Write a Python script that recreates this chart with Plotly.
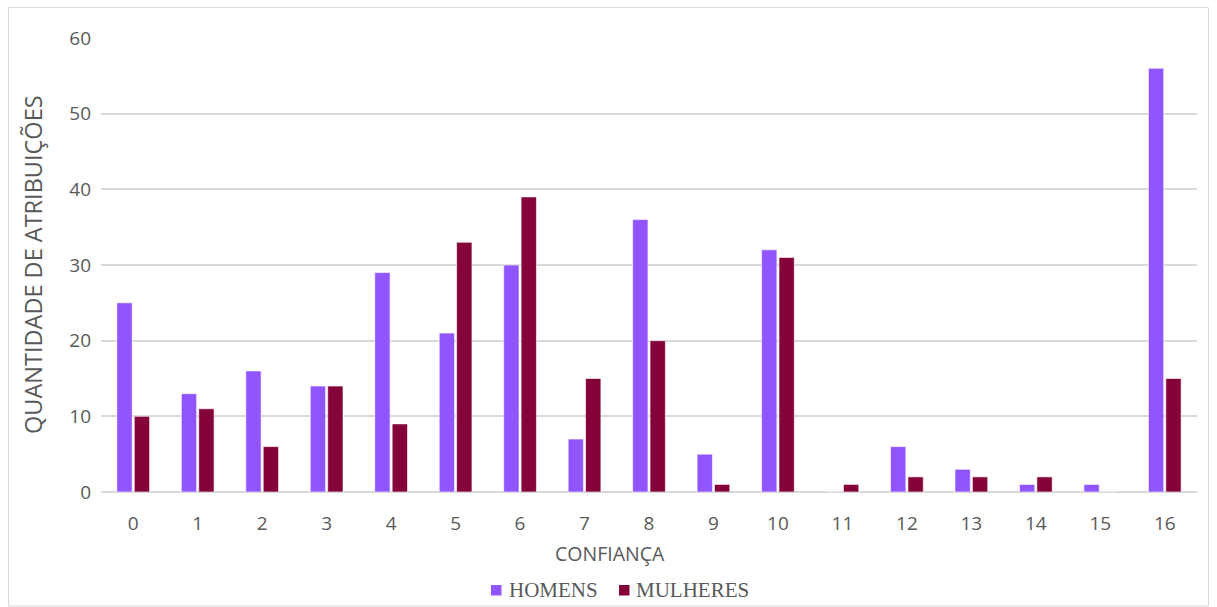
import plotly.graph_objects as go

# Confiança levels and counts per group
categorias = [str(i) for i in range(17)]
homens = [25, 13, 16, 14, 29, 21, 30, 7, 36, 5, 32, 0, 6, 3, 1, 1, 56]
mulheres = [10, 11, 6, 14, 9, 33, 39, 15, 20, 1, 31, 1, 2, 2, 2, 0, 15]
y_ticks = [0, 10, 20, 30, 40, 50, 60]

series = [
    ("HOMENS", homens, "#9155FF"),
    ("MULHERES", mulheres, "#840338"),
]

W, H = 1217, 607
L, R, T, B = 101, 20, 38, 115
PW, PH = W - L - R, H - T - B


def px_x(px):
    """Pixel column -> paper x."""
    return (px - L) / PW


def px_y(py):
    """Pixel row -> paper y."""
    return (H - B - py) / PH


fig = go.Figure()
for name, vals, color in series:
    fig.add_trace(go.Bar(
        x=categorias, y=vals, name=name,
        marker=dict(color=color, line=dict(color="rgba(255,255,255,0.6)", width=1)),
    ))

grey = "#595959"

# Bottom legend: coloured square followed by serif label
legend_items = [(491, 507), (619, 634)]
legend_shapes, legend_notes = [], []
for (sq_x, txt_x), (name, _, color) in zip(legend_items, series):
    legend_shapes.append(dict(
        type="rect", xref="paper", yref="paper",
        x0=px_x(sq_x), x1=px_x(sq_x + 10.5), y0=px_y(595.5), y1=px_y(585),
        line=dict(width=0), fillcolor=color,
    ))
    legend_notes.append(dict(
        text=name, xref="paper", yref="paper", x=px_x(txt_x), y=px_y(590),
        xanchor="left", yanchor="middle", showarrow=False,
        font=dict(family="Liberation Serif", size=21, color=grey),
    ))

fig.update_layout(
    width=W, height=H,
    margin=dict(l=L, r=R, t=T, b=B, autoexpand=False),
    paper_bgcolor="white", plot_bgcolor="white",
    barmode="group", bargap=0.46, bargroupgap=0.12,
    showlegend=False,
    xaxis=dict(
        type="category", showgrid=False, showline=False, zeroline=False,
        ticks="", tickfont=dict(family="Open Sans", size=19, color=grey),
        ticklabelstandoff=18,
    ),
    yaxis=dict(
        range=[0, 60], tickvals=y_ticks, showgrid=True,
        gridcolor="#d9d9d9", gridwidth=1.5, zeroline=True,
        zerolinecolor="#d9d9d9", zerolinewidth=1.5, showline=False, ticks="",
        tickfont=dict(family="Open Sans", size=19, color=grey),
        ticklabelstandoff=9,
    ),
    annotations=[
        dict(text="CONFIANÇA", xref="paper", yref="paper",
             x=px_x(610), y=px_y(553),
             xanchor="center", yanchor="middle", showarrow=False,
             font=dict(family="Open Sans", size=19.5, color=grey)),
        dict(text="QUANTIDADE DE ATRIBUIÇÕES", xref="paper", yref="paper",
             x=px_x(33), y=px_y(265), textangle=-90,
             xanchor="center", yanchor="middle", showarrow=False,
             font=dict(family="Open Sans", size=23.5, color=grey)),
    ] + legend_notes,
    shapes=[
        dict(type="rect", xref="paper", yref="paper",
             x0=px_x(8.5), x1=px_x(1208.5), y0=px_y(606), y1=px_y(7.5),
             line=dict(color="#d9d9d9", width=1), fillcolor="rgba(0,0,0,0)",
             layer="below"),
    ] + legend_shapes,
)

fig.write_html("out.html")
